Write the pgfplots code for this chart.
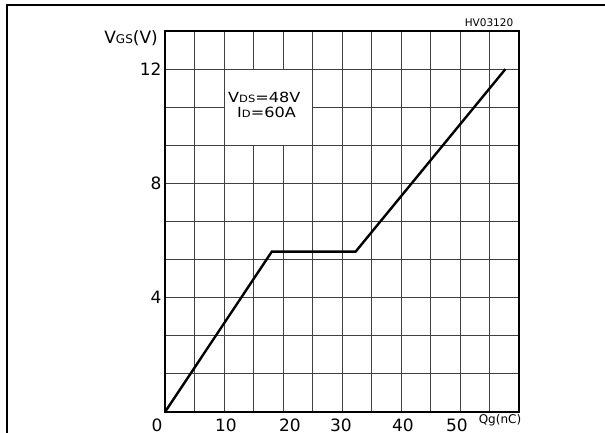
\documentclass[border=0pt]{standalone}
\usepackage{pgfplots}
\pgfplotsset{compat=1.18}
\usepackage{fontspec}
\setmainfont{DejaVu Sans}
\newcommand{\bigf}{\fontsize{17}{18}\selectfont}
\newcommand{\annf}{\fontsize{14}{15}\selectfont}
\newcommand{\smf}{\fontsize{10}{11}\selectfont}
\begin{document}
\begin{tikzpicture}[x=1pt,y=1pt]
\useasboundingbox (-165,-20) rectangle (440,412);
\draw[line width=2.3pt] (-158,-30) -- (-158,407) -- (450,407);
\begin{axis}[
  at={(0,0)}, anchor=south west,
  scale only axis, width=354pt, height=381pt,
  xmin=0, xmax=60, ymin=0, ymax=13.33333,
  xtick={0,10,20,30,40,50}, ytick={4,8,12},
  xticklabels={{0\kern16pt},{\kern4pt 10},{\kern14pt 20},{30\kern2pt},{\kern4pt 40},{50\kern6pt}},
  minor xtick={5,15,25,35,45,55},
  minor ytick={1.33333,2.66667,5.33333,6.66667,9.33333,10.66667},
  grid=both,
  major grid style={black!75, line width=0.9pt},
  minor grid style={black!75, line width=0.9pt},
  major tick length=0pt, minor tick length=0pt,
  axis line style={line width=2pt},
  tick label style={font=\bigf},
  xticklabel style={yshift=-3pt},
  /pgf/number format/assume math mode=true,
  clip=false,
]
\fill[white] (axis cs:10,9.33333) rectangle (axis cs:25,12);
\draw[black!75, line width=0.9pt] (axis cs:10,9.33333) rectangle (axis cs:25,12);
\addplot[black, line width=2.4pt, line join=miter] coordinates {(0,0) (18.1,5.61) (32.3,5.61) (57.7,12)};
\end{axis}
\node[anchor=east, inner sep=0pt] at (-7,374) {\bigf V{\fontsize{12}{13}\selectfont GS}(V)};
\node[inner sep=0pt] at (324,389) {\fontsize{10.5}{11}\selectfont HV03120};
\node[inner sep=0pt] at (335,-8) {\fontsize{12}{13}\selectfont Qg(nC)};
\node[anchor=west, inner sep=0pt, xscale=1.15] at (63,315) {\annf V{\smf DS}=48V};
\node[anchor=west, inner sep=0pt, xscale=1.15] at (72,300) {\annf I{\smf D}=60A};
\end{tikzpicture}
\end{document}
